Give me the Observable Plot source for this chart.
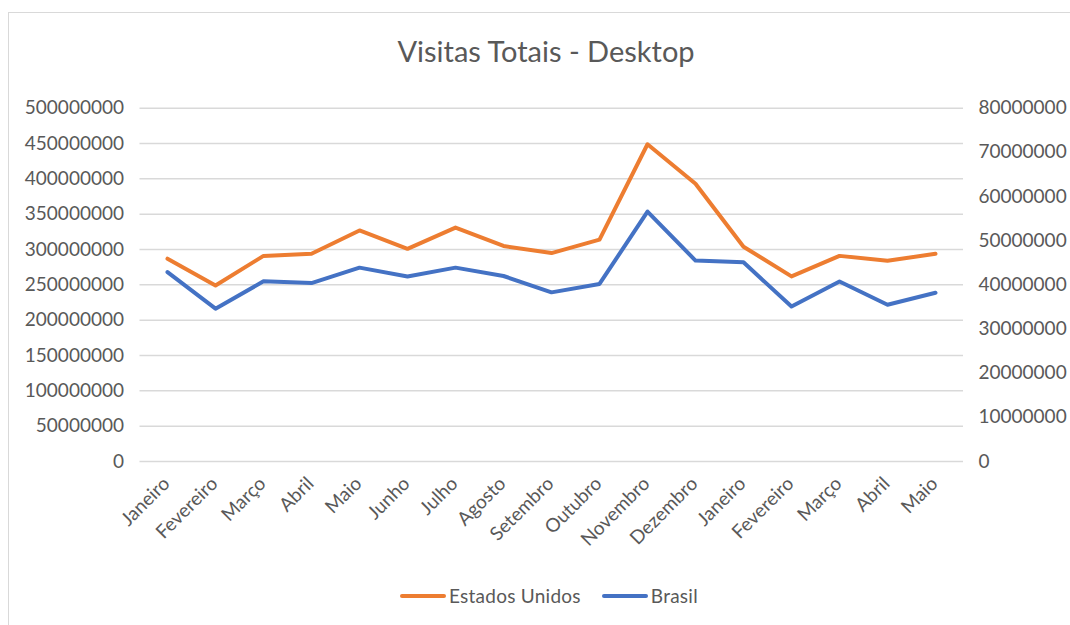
<!DOCTYPE html>
<html>
<head>
<meta charset="utf-8">
<script src="https://cdn.jsdelivr.net/npm/d3@7"></script>
<script src="https://cdn.jsdelivr.net/npm/@observablehq/plot@0.6"></script>
<style>
  html, body { margin: 0; padding: 0; background: #fff; }
  #wrap { position: relative; width: 1070px; height: 625px; overflow: hidden; font-family: Lato, "Open Sans", sans-serif; color: #595959; }
  #border { position: absolute; left: 8px; top: 12px; width: 1100px; height: 700px; border: 1.5px solid #d9d9d9; }
  #title { position: absolute; left: 0; width: 1092px; top: 33px; text-align: center; font-size: 29px; line-height: 36px; color: #595959; }
  #chart { position: absolute; left: 0; top: 90px; }
  #legend { position: absolute; top: 584px; left: 400px; display: flex; align-items: center; font-size: 19px; letter-spacing: 0.25px; color: #595959; white-space: nowrap; }
  .sw { display: inline-block; width: 46px; height: 4px; border-radius: 2px; margin-right: 3px; }
</style>
</head>
<body>
<div id="wrap">
  <div id="border"></div>
  <div id="title">Visitas Totais - Desktop</div>
  <div id="chart"></div>
  <div id="legend"></div>
</div>
<script>
const months = ["Janeiro","Fevereiro","Março","Abril","Maio","Junho","Julho","Agosto","Setembro","Outubro","Novembro","Dezembro","Janeiro","Fevereiro","Março","Abril","Maio"];
const estadosUnidos = [287e6, 249e6, 291e6, 294e6, 327e6, 301e6, 331e6, 305e6, 295e6, 314e6, 449e6, 393e6, 304e6, 262e6, 291e6, 284e6, 294e6];
const brasil = [42.9e6, 34.6e6, 40.8e6, 40.4e6, 43.9e6, 41.9e6, 43.9e6, 42.0e6, 38.3e6, 40.2e6, 56.6e6, 45.5e6, 45.1e6, 35.1e6, 40.75e6, 35.5e6, 38.2e6];
const leftTicks = [0, 50e6, 100e6, 150e6, 200e6, 250e6, 300e6, 350e6, 400e6, 450e6, 500e6];
const rightTicks = [0, 10e6, 20e6, 30e6, 40e6, 50e6, 60e6, 70e6, 80e6];
const seriesNames = ["Estados Unidos", "Brasil"];
const seriesColors = ["#ED7D31", "#4472C4"];

const leftMax = 500e6, rightMax = 80e6;
const k = leftMax / rightMax;

const usData = estadosUnidos.map((v, i) => ({i, v}));
const brData = brasil.map((v, i) => ({i, v: v * k}));

const plot = Plot.plot({
  width: 1070,
  height: 470,
  marginLeft: 139.5,
  marginRight: 107,
  marginTop: 17.7,
  marginBottom: 99,
  style: {fontFamily: "Lato, 'Open Sans', sans-serif", fontSize: "19px", color: "#595959", background: "transparent"},
  x: {type: "point", domain: d3.range(months.length), padding: 0.5},
  y: {domain: [0, leftMax]},
  marks: [
    Plot.gridY(leftTicks, {stroke: "#d9d9d9", strokeOpacity: 1, strokeWidth: 1.5}),
    Plot.axisY(leftTicks, {anchor: "left", tickSize: 0, tickPadding: 16, tickFormat: d => String(d), fill: "#595959", label: null}),
    Plot.axisY(rightTicks.map(d => d * k), {anchor: "right", tickSize: 0, tickPadding: 15, tickFormat: d => String(Math.round(d / k)), fill: "#595959", label: null}),
    Plot.axisX({anchor: "bottom", tickSize: 0, tickPadding: 19, dx: -1, tickRotate: -45, tickFormat: i => months[i], fill: "#595959", label: null}),
    Plot.line(usData, {x: "i", y: "v", stroke: seriesColors[0], strokeWidth: 4, strokeLinejoin: "round", strokeLinecap: "round"}),
    Plot.line(brData, {x: "i", y: "v", stroke: seriesColors[1], strokeWidth: 4, strokeLinejoin: "round", strokeLinecap: "round"})
  ]
});
document.getElementById("chart").appendChild(plot);

const legend = document.getElementById("legend");
seriesNames.forEach((name, j) => {
  const item = document.createElement("span");
  item.style.display = "inline-flex";
  item.style.alignItems = "center";
  item.style.marginRight = j === 0 ? "21px" : "0";
  const sw = document.createElement("span");
  sw.className = "sw";
  sw.style.background = seriesColors[j];
  const t = document.createElement("span");
  t.textContent = name;
  item.appendChild(sw);
  item.appendChild(t);
  legend.appendChild(item);
});
</script>
</body>
</html>
